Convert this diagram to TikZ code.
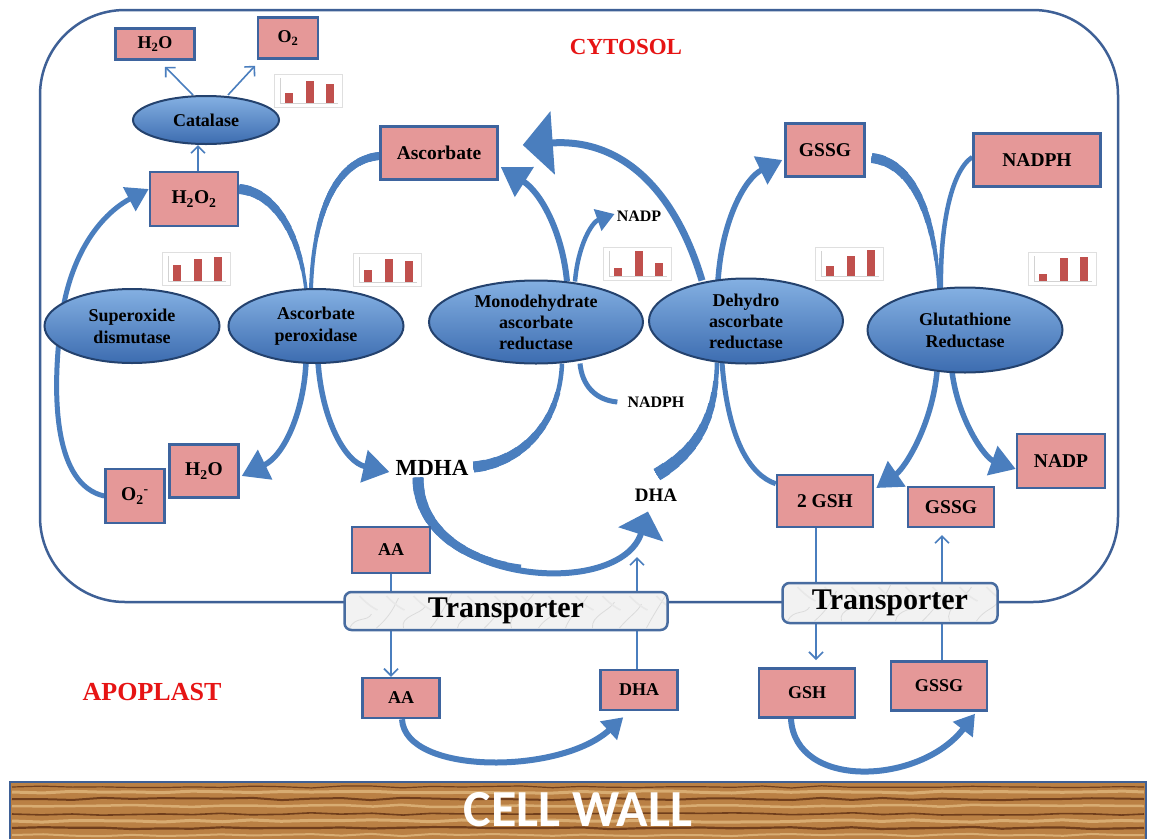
\documentclass[tikz,border=0pt]{standalone}
\usepackage{fontspec}
\setmainfont{Liberation Serif}
\newfontfamily\wallfont{Carlito}
\usetikzlibrary{shapes.geometric,arrows.meta,calc,decorations.pathmorphing}
\definecolor{boxfill}{RGB}{229,152,152}
\definecolor{boxline}{RGB}{62,100,158}
\definecolor{arrowc}{RGB}{74,126,190}
\definecolor{ellTop}{RGB}{132,176,226}
\definecolor{ellBot}{RGB}{60,108,176}
\definecolor{ellLine}{RGB}{36,66,110}
\definecolor{framec}{RGB}{62,96,150}
\definecolor{trline}{RGB}{72,108,160}
\definecolor{barred}{RGB}{192,80,77}
\definecolor{wood}{RGB}{186,128,68}
\definecolor{woodD}{RGB}{112,62,28}
\definecolor{woodL}{RGB}{216,172,114}
\definecolor{labred}{RGB}{230,20,20}
\pgfdeclarelayer{back}\pgfdeclarelayer{bg}\pgfsetlayers{back,bg,main}
% thickening near the start of a path: #1 thin width, #2 thick width, #3 taper length, #4 path
\newcommand\taperonly[4]{%
  \foreach \k in {1,...,10}{%
    \pgfmathsetmacro\tw{#1+(#2-#1)*\k/10}%
    \pgfmathsetmacro\tl{#3*(1-(\k-1)/10)}%
    \draw[flow,line width=\tw pt,dash pattern=on \tl pt off 3000pt] #4;}}
\newcommand\tapered[4]{%
  \draw[flow,line width=#1pt] #4;
  \taperonly{#1}{#2}{#3}{#4}}
\begin{document}
\begin{tikzpicture}[x=1pt,y=-1pt,
  enz/.style={ellipse, draw=ellLine, line width=2pt, top color=ellTop, bottom color=ellBot,
    align=center, inner sep=0pt, font=\bfseries\fontsize{18}{22}\selectfont},
  box/.style={rectangle, draw=boxline, line width=2.5pt, fill=boxfill, inner sep=0pt,
    font=\bfseries\fontsize{19.5}{22}\selectfont},
  sbox/.style={box, font=\bfseries\fontsize{18}{20}\selectfont},
  lab/.style={inner sep=0pt, font=\bfseries\fontsize{16}{18}\selectfont},
  flow/.style={draw=arrowc, line width=6pt},
  thinarrow/.style={draw=arrowc, line width=1.6pt, -{Straight Barb[length=7pt,width=14pt]}},
  transp/.style={rectangle, draw=trline, line width=2.5pt, fill=gray!10, rounded corners=7pt,
    inner sep=0pt, font=\bfseries\fontsize{30}{32}\selectfont,
    path picture={
      \foreach \i/\a/\b in {0/6/-14, 1/14/-30, 2/-4/-22, 3/10/-36, 4/2/-18, 5/12/-28, 6/-6/-34, 7/8/-20, 8/4/-32, 9/-2/-26, 10/10/-24, 11/6/-38}{
        \draw[gray!28,line width=0.8pt]
          ($(path picture bounding box.south west)+(\i*27+5,-2)$) .. controls +(\a,-12) and +(-4,8) .. ++(22,\b);
        \draw[gray!18,line width=1.6pt]
          ($(path picture bounding box.north west)+(\i*27+15,4)$) .. controls +(6,6) and +(-8,-4) .. ++(18,14);}}},
  pics/barchart/.style n args={3}{code={
    \draw[gray!25, fill=white, line width=0.6pt] (0,0) rectangle (68,33);
    \draw[gray!35, line width=0.4pt] (6,4) -- (6,29) -- (64,29);
    \fill[barred] (11,29) rectangle (19,{29-#1});
    \fill[barred] (32,29) rectangle (40,{29-#2});
    \fill[barred] (52,29) rectangle (60,{29-#3});
  }}
]
\useasboundingbox (0,0) rectangle (1152,839);

% ---------- background: cytosol frame and cell wall ----------
\begin{pgfonlayer}{back}
  \fill[white] (0,0) rectangle (1152,839);
  \draw[framec, line width=2.5pt, rounded corners=85pt] (40,10) rectangle (1118,602);
  \fill[wood] (10,782) rectangle (1146,839);
  \foreach \yy/\cc/\ww in {787/woodD/1.2, 792/woodL/3, 799/woodD/2, 806/woodL/2.5, 814/woodD/1.6, 821/woodL/3, 828/woodD/2.2, 835/woodL/2}
    \draw[\cc, line width=\ww pt, decorate, decoration={random steps,segment length=30pt,amplitude=1.2pt}] (12,\yy) -- (1144,\yy);
  \draw[framec, line width=1.5pt] (10,839) -- (10,782) -- (1146,782) -- (1146,839);
\end{pgfonlayer}

% ---------- labels ----------
\node[text=labred, inner sep=0pt, font=\bfseries\fontsize{23}{25}\selectfont] (cyt) at (626,47) {CYTOSOL};
\node[text=labred, inner sep=0pt, font=\bfseries\fontsize{26}{28}\selectfont] (apo) at (152,692) {APOPLAST};
\node[text=white, inner sep=0pt, font=\wallfont\bfseries\fontsize{52}{54}\selectfont] (wall) at (578,810) {CELL WALL};

% ---------- enzymes ----------
\node[enz, minimum width=146pt, minimum height=48pt] (cat) at (206,120) {Catalase};
\node[enz, minimum width=175pt, minimum height=74pt] (sod) at (132,326) {Superoxide\\dismutase};
\node[enz, minimum width=175pt, minimum height=74pt] (apx) at (316,326) {Ascorbate\\peroxidase};
\node[enz, minimum width=214pt, minimum height=83pt, font=\bfseries\fontsize{18}{21}\selectfont] (mdhar) at (536,322) {Monodehydrate\\ascorbate\\reductase};
\node[enz, minimum width=194pt, minimum height=85pt, font=\bfseries\fontsize{18}{21}\selectfont] (dhar) at (746,321) {Dehydro\\ascorbate\\reductase};
\node[enz, minimum width=195pt, minimum height=85pt] (gr) at (965,330) {Glutathione\\Reductase};

% ---------- metabolites ----------
\node[sbox, minimum width=79pt, minimum height=31pt] (h2oT) at (155,44) {H\textsubscript{2}O};
\node[sbox, minimum width=60pt, minimum height=41pt] (o2T) at (288,38) {O\textsubscript{2}};
\node[box, minimum width=88pt, minimum height=54pt] (h2o2) at (194,199) {H\textsubscript{2}O\textsubscript{2}};
\node[box, minimum width=117pt, minimum height=53pt] (asc) at (439,153) {Ascorbate};
\node[box, minimum width=79pt, minimum height=53pt] (gssgT) at (825,150) {GSSG};
\node[box, minimum width=127pt, minimum height=53pt] (nadphB) at (1037,160) {NADPH};
\node[box, minimum width=88pt, minimum height=54pt] (nadpB) at (1061,461) {NADP};
\node[box, minimum width=96pt, minimum height=52pt] (gsh2) at (825,501) {2 GSH};
\node[box, minimum width=86pt, minimum height=40pt] (gssgM) at (951,507) {GSSG};
\node[box, minimum width=59pt, minimum height=54pt] (o2m) at (135,496) {O\textsubscript{2}\textsuperscript{-}};
\node[box, minimum width=69pt, minimum height=53pt] (h2oM) at (204,471) {H\textsubscript{2}O};
\node[sbox, minimum width=78pt, minimum height=46pt] (aaT) at (391,550) {AA};
\node[sbox, minimum width=77pt, minimum height=40pt] (aaB) at (401,698) {AA};
\node[sbox, minimum width=77pt, minimum height=40pt] (dhaB) at (639,690) {DHA};
\node[sbox, minimum width=96pt, minimum height=49pt] (gsh) at (807,693) {GSH};
\node[sbox, minimum width=96pt, minimum height=49pt] (gssgB) at (939,686) {GSSG};

\node[inner sep=0pt, font=\bfseries\fontsize{23}{25}\selectfont] (mdha) at (432,468) {MDHA};
\node[inner sep=0pt, font=\bfseries\fontsize{19}{21}\selectfont] (dha) at (656,495) {DHA};
\node[lab] (nadpT) at (639,216) {NADP};
\node[lab] (nadphT) at (656,402) {NADPH};

% ---------- transporters ----------
\node[transp, minimum width=323pt, minimum height=38pt] (tr1) at (506,611) {Transporter};
\node[transp, minimum width=215pt, minimum height=40pt] (tr2) at (890,603) {Transporter};

% ---------- bar charts ----------
\pic at (274,74) {barchart={10}{22}{19}};
\pic at (162,252) {barchart={16}{22}{24}};
\pic at (353,253) {barchart={12}{23}{21}};
\pic at (603,247) {barchart={8}{25}{13}};
\pic at (815,247) {barchart={10}{20}{26}};
\pic at (1028,252) {barchart={7}{23}{24}};

% ---------- coordinates for free ends ----------
\coordinate (dhaUp) at (637,557);
\coordinate (gshIn) at (816,660);
\coordinate (gssgOut) at (942,535);

% ---------- connectors ----------
\begin{pgfonlayer}{bg}
  % catalase
  \draw[thinarrow] ([xshift=4pt]h2o2.north) -- ([xshift=-8pt]cat.south);
  \draw[thinarrow] ([xshift=-13pt]cat.north) -- ($(h2oT.south)+(10,6)$);
  \draw[thinarrow] ([xshift=22pt]cat.north) -- ($(o2T.south)+(-33,6)$);
  % transport
  \draw[thinarrow] (aaT.south) -- (aaT.south |- aaB.north);
  \draw[thinarrow] (dhaUp |- dhaB.north) -- (dhaUp);
  \draw[thinarrow] (gshIn |- gsh2.south) -- (gshIn);
  \draw[thinarrow] (gssgOut |- gssgB.north) -- (gssgOut);

  % SOD
  \draw[flow, line width=5pt, -{Triangle[length=22pt,width=26pt]}]
    (o2m.west) .. controls (55,485) and (52,400) .. (60,330)
    .. controls (68,250) and (105,212) .. ($(h2o2.west)+(0,-10)$);
  % APX
  \tapered{3.5}{10}{110}{($(h2o2.east)+(0,-10)$) .. controls (275,192) and (300,235) .. ($(apx.north)+(-10,2)$)}
  \tapered{4}{8}{110}{($(asc.west)+(0,3)$) .. controls (335,160) and (313,215) .. ($(apx.north)+(-5,2)$)}
  \draw[flow, line width=5.5pt, -{Triangle[length=26pt,width=32pt]}]
    ($(apx.south)+(-10,-2)$) .. controls (304,410) and (285,455) .. ($(h2oM.east)+(2,5)$);
  \draw[flow, line width=5.5pt, -{Triangle[length=26pt,width=32pt]}]
    ($(apx.south)+(2,-2)$) .. controls (322,420) and (345,462) .. ($(mdha.west)+(-6,4)$);
  % MDHAR
  \tapered{4.5}{11}{120}{($(mdha.east)+(5,-1)$) .. controls (525,462) and (560,420) .. ($(mdhar.south)+(26,-1)$)}
  \taperonly{6}{11}{150}{($(mdha.south)+(-14,2)$) .. controls (418,585) and (620,600) .. ($(dha.south)+(-8,10)$)}
  \draw[flow, line width=6pt, -{Triangle[length=24pt,width=46pt]}]
    ($(mdha.south)+(-14,2)$) .. controls (418,585) and (620,600) .. ($(dha.south)+(-8,10)$);
  \draw[flow, line width=6pt, -{Triangle[length=28pt,width=34pt]}]
    ($(mdhar.north)+(31,2)$) .. controls (562,230) and (540,192) .. ($(asc.east)+(2,14)$);
  \draw[flow, line width=4.5pt, -{Triangle[length=18pt,width=22pt]}]
    ($(mdhar.north)+(39,2)$) .. controls (578,245) and (592,222) .. ($(nadpT.west)+(-2,-2)$);
  \draw[flow, line width=5pt] ($(nadphT.west)+(-10,0)$) .. controls (595,400) and (582,385) .. ($(mdhar.south)+(44,-1)$);
  % DHAR
  \draw[flow, line width=7pt, -{Triangle[length=30pt,width=62pt]}]
    ($(dhar.north)+(-44,3)$) .. controls (675,190) and (622,138) .. ($(asc.east)+(24,-8)$);
  \draw[flow, line width=5.5pt, -{Triangle[length=24pt,width=30pt]}]
    ($(dhar.north)+(-28,3)$) .. controls (722,220) and (745,178) .. ($(gssgT.west)+(-2,10)$);
  \tapered{4.5}{13}{115}{($(dha.north)+(1,-14)$) .. controls (695,452) and (716,420) .. ($(dhar.south)+(-29,-2)$)}
  \draw[flow, line width=5pt] ($(dhar.south)+(-24,-2)$) .. controls (728,440) and (750,475) .. ($(gsh2.north west)+(0,10)$);
  % GR
  \tapered{3.5}{10}{130}{($(gssgT.east)+(6,8)$) .. controls (915,163) and (935,220) .. ($(gr.north)+(-26,2)$)}
  \draw[flow, line width=4.5pt] ($(nadphB.west)+(0,-3)$) .. controls (950,172) and (940,230) .. ($(gr.north)+(-24,2)$);
  \draw[flow, line width=5.5pt, -{Triangle[length=25pt,width=30pt]}]
    ($(gr.south)+(-28,-2)$) .. controls (932,425) and (905,468) .. ($(gsh2.east)+(2,-13)$);
  \draw[flow, line width=5.5pt, -{Triangle[length=25pt,width=30pt]}]
    ($(gr.south)+(-13,-2)$) .. controls (958,420) and (985,458) .. ($(nadpB.west)+(0,8)$);
  % apoplast
  \draw[flow, line width=6pt, -{Triangle[length=20pt,width=24pt]}]
    ($(aaB.south)+(1,0)$) .. controls (405,775) and (560,775) .. ($(dhaB.south west)+(24,6)$);
  \draw[flow, line width=6pt, -{Triangle[length=20pt,width=24pt]}]
    ($(gsh.south)+(-16,0)$) .. controls (795,790) and (920,785) .. ($(gssgB.south)+(36,2)$);
\end{pgfonlayer}
\end{tikzpicture}
\end{document}
